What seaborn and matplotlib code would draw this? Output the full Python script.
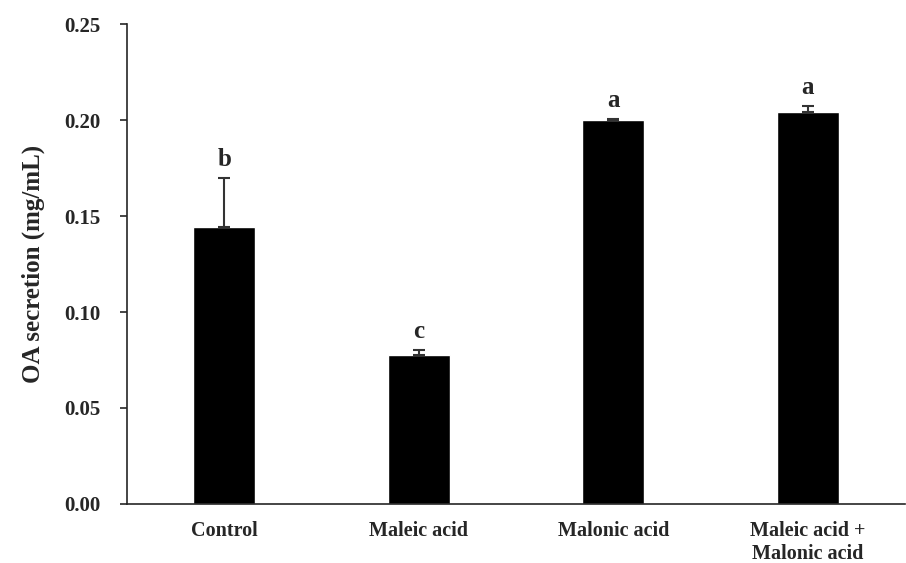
import matplotlib
matplotlib.use("Agg")
import matplotlib.pyplot as plt
import seaborn as sns
import pandas as pd
import numpy as np

categories = ["Control", "Maleic acid", "Malonic acid", "Maleic acid +\nMalonic acid"]
means = [0.1445, 0.0775, 0.2000, 0.2044]
errors = [0.0255, 0.0025, 0.0007, 0.0028]
letters = ["b", "c", "a", "a"]
yticks = [0.00, 0.05, 0.10, 0.15, 0.20, 0.25]

sns.set_style("ticks")
plt.rcParams["font.family"] = ["Liberation Serif", "DejaVu Serif"]
plt.rcParams["font.weight"] = "bold"

df = pd.DataFrame({"cat": categories, "val": means})

fig = plt.figure(figsize=(9.06, 5.63), dpi=100)
ax = fig.add_axes([0.140, 0.105, 0.859, 0.852])
sns.barplot(data=df, x="cat", y="val", color="black", width=0.32, ax=ax,
            saturation=1, errorbar=None)
x = np.arange(len(categories))
ax.errorbar(x, means, yerr=[np.zeros(len(errors)), errors], fmt="none",
            ecolor="#333333", elinewidth=1.5, capsize=4, capthick=1.5)
for xi, m, e, l in zip(x, means, errors, letters):
    ax.annotate(l, (xi, m + e), xytext=(0, 5), textcoords="offset points",
                ha="center", va="bottom", fontsize=18, fontweight="bold")

ax.set_xlim(-0.5, 3.5)
ax.set_ylim(0, 0.25)
ax.set_yticks(yticks)
ax.set_yticklabels([f"{t:.2f}" for t in yticks], fontsize=15, fontweight="bold")
ax.tick_params(axis="y", direction="out", length=5, width=1.2, pad=14)
ax.tick_params(axis="x", length=0, pad=12, labelsize=14.5)
for lab in ax.get_xticklabels():
    lab.set_fontweight("bold")
    lab.set_linespacing(1.2)
ax.set_xlabel("")
ax.set_ylabel("OA secretion (mg/mL)", fontsize=18, fontweight="bold", labelpad=14)
for s in ["top", "right"]:
    ax.spines[s].set_visible(False)
ax.spines["left"].set_linewidth(1.2)
ax.spines["bottom"].set_linewidth(1.2)

fig.savefig("out.png", dpi=100)
